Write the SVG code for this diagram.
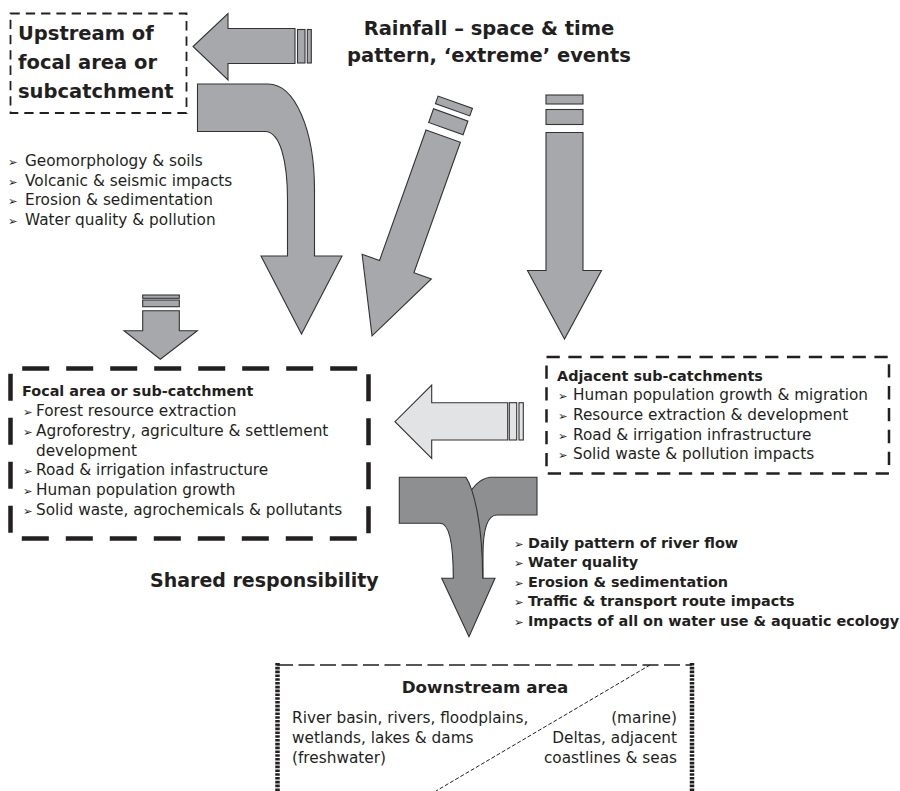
<svg xmlns="http://www.w3.org/2000/svg" width="900" height="791" viewBox="0 0 900 791">
<style>
text{font-family:"DejaVu Sans","Liberation Sans",sans-serif;fill:#231f20}
.t{font-size:15.3px}
.bb{font-size:14.4px;font-weight:bold}
.big{font-size:19.5px;font-weight:bold}
.bul{font-size:11.5px;font-weight:normal}
.arr{fill:#a7a8ab;stroke:#333;stroke-width:1.1}
.light{fill:#e2e3e5}
.dark{fill:#8e8f91}
.box{fill:none;stroke:#231f20}
</style>
<rect width="900" height="791" fill="#fff"/>

<g id="connectors">
  <g id="arrow-to-upstream">
    <polygon class="arr" points="295,28.5 228,28.5 228,13.5 193,46.5 228,80 228,63.5 295,63.5"/>
    <rect class="arr" x="297.5" y="29.5" width="7.5" height="33.5"/>
    <rect class="arr" x="307.3" y="29.5" width="4" height="33.5"/>
  </g>
  <path id="arrow-upstream-to-focal" class="arr" d="M197.5,84 L268,84 C295,84 314.5,130 314.5,190 L314.5,256 L342,256 L301.5,334 L261,256 L287.5,256 L287.5,200 C287.5,160 280,133 266,131.5 L197.5,131.5 Z"/>
  <g id="arrow-rain-diagonal" transform="translate(426,130) rotate(19.6)">
    <rect class="arr" x="0" y="-36" width="36.5" height="8"/>
    <rect class="arr" x="0" y="-22.5" width="36.5" height="14.5"/>
    <polygon class="arr" points="0,0 36.5,0 36.5,138.5 55,138.5 18.2,212 -18.5,138.5 0,138.5"/>
  </g>
  <g id="arrow-rain-vertical">
    <rect class="arr" x="546" y="95" width="37" height="9"/>
    <rect class="arr" x="546" y="109.5" width="37" height="15"/>
    <polygon class="arr" points="546,132.5 583,132.5 583,270.5 601.5,270.5 564.5,339 527.5,270.5 546,270.5"/>
  </g>
  <g id="arrow-into-focal">
    <rect class="arr" x="142.7" y="295" width="36.6" height="3.3"/>
    <rect class="arr" x="142.7" y="300" width="36.6" height="6.7"/>
    <polygon class="arr" points="142.7,310.7 179.3,310.7 179.3,330.7 197.3,330.7 160.3,359.3 124,330.7 142.7,330.7"/>
  </g>
  <g id="arrow-adjacent-to-focal">
    <polygon class="arr light" points="507.7,402.7 431.7,402.7 431.7,385 395,421.7 431.7,458.3 431.7,440 507.7,440"/>
    <rect class="arr light" x="509.3" y="402.7" width="7.4" height="37.3"/>
    <rect class="arr light" x="519" y="402.7" width="4.3" height="37.3"/>
  </g>
  <g id="arrow-to-downstream">
    <path class="arr dark" d="M537,477.3 L490,477.3 C470,480 455,510 453.5,578 L483,578 L483,555 C483,530 487,515 497,515 L537,515 Z"/>
    <path class="arr dark" d="M399.3,477.3 L466,477.3 C474,490 482.7,525 482.7,578.3 L495,578.3 L469,636.7 L441.7,578.3 L453.3,578.3 C453.3,545 450,523.3 440,523.3 L399.3,523.3 Z"/>
  </g>
</g>

<g id="rainfall">
  <text class="big" x="489" y="35" text-anchor="middle">Rainfall – space &amp; time</text>
  <text class="big" x="489" y="62" text-anchor="middle">pattern, ‘extreme’ events</text>
</g>

<g id="upstream">
  <rect class="box" x="10.5" y="13.5" width="176" height="99.5" stroke-width="1.8" stroke-dasharray="9.3 6"/>
  <text class="big" x="18" y="39.5">Upstream of</text>
  <text class="big" x="18" y="68.5">focal area or</text>
  <text class="big" x="18" y="97.5">subcatchment</text>
</g>

<g id="upstream-factors">
  <text class="t" y="166"><tspan class="bul" x="8">➢</tspan><tspan x="25">Geomorphology &amp; soils</tspan></text>
  <text class="t" y="185.7"><tspan class="bul" x="8">➢</tspan><tspan x="25">Volcanic &amp; seismic impacts</tspan></text>
  <text class="t" y="205.4"><tspan class="bul" x="8">➢</tspan><tspan x="25">Erosion &amp; sedimentation</tspan></text>
  <text class="t" y="225.1"><tspan class="bul" x="8">➢</tspan><tspan x="25">Water quality &amp; pollution</tspan></text>
</g>

<g id="focal">
  <rect class="box" x="10.5" y="368.5" width="358" height="170" stroke-width="4.5" stroke-dasharray="27 17" stroke-dashoffset="32.3"/>
  <text class="bb" x="22" y="396">Focal area or sub-catchment</text>
  <text class="t" y="415.8"><tspan class="bul" x="23">➢</tspan><tspan x="36">Forest resource extraction</tspan></text>
  <text class="t" y="435.7"><tspan class="bul" x="23">➢</tspan><tspan x="36">Agroforestry, agriculture &amp; settlement</tspan></text>
  <text class="t" x="36" y="455.5">development</text>
  <text class="t" y="475.4"><tspan class="bul" x="23">➢</tspan><tspan x="36">Road &amp; irrigation infastructure</tspan></text>
  <text class="t" y="495.2"><tspan class="bul" x="23">➢</tspan><tspan x="36">Human population growth</tspan></text>
  <text class="t" y="515"><tspan class="bul" x="23">➢</tspan><tspan x="36">Solid waste, agrochemicals &amp; pollutants</tspan></text>
</g>

<g id="adjacent">
  <rect class="box" x="546.5" y="357" width="342.5" height="116.5" stroke-width="2.5" stroke-dasharray="13.3 8.56"/>
  <text class="bb" x="557" y="381">Adjacent sub-catchments</text>
  <text class="t" y="400"><tspan class="bul" x="558">➢</tspan><tspan x="573">Human population growth &amp; migration</tspan></text>
  <text class="t" y="419.8"><tspan class="bul" x="558">➢</tspan><tspan x="573">Resource extraction &amp; development</tspan></text>
  <text class="t" y="439.5"><tspan class="bul" x="558">➢</tspan><tspan x="573">Road &amp; irrigation infrastructure</tspan></text>
  <text class="t" y="459.3"><tspan class="bul" x="558">➢</tspan><tspan x="573">Solid waste &amp; pollution impacts</tspan></text>
</g>

<g id="shared">
  <text x="150" y="587" style="font-size:19px;font-weight:bold">Shared responsibility</text>
</g>

<g id="downstream-effects">
  <text class="bb" y="547.5"><tspan class="bul" x="514">➢</tspan><tspan x="528">Daily pattern of river flow</tspan></text>
  <text class="bb" y="567"><tspan class="bul" x="514">➢</tspan><tspan x="528">Water quality</tspan></text>
  <text class="bb" y="586.5"><tspan class="bul" x="514">➢</tspan><tspan x="528">Erosion &amp; sedimentation</tspan></text>
  <text class="bb" y="606"><tspan class="bul" x="514">➢</tspan><tspan x="528">Traffic &amp; transport route impacts</tspan></text>
  <text class="bb" y="625.5"><tspan class="bul" x="514">➢</tspan><tspan x="528">Impacts of all on water use &amp; aquatic ecology</tspan></text>
</g>

<g id="downstream">
  <line class="box" x1="277" y1="665" x2="692" y2="665" stroke-width="1.5" stroke-dasharray="16 5.5"/>
  <line class="box" x1="277.5" y1="663" x2="277.5" y2="791" stroke-width="4.5" stroke-dasharray="2.6 1.2"/>
  <line class="box" x1="692" y1="663" x2="692" y2="791" stroke-width="4.5" stroke-dasharray="2.6 1.2"/>
  <line class="box" x1="650" y1="665" x2="436" y2="791" stroke-width="1" stroke-dasharray="4 2"/>
  <text x="485" y="693" text-anchor="middle" style="font-size:16.7px;font-weight:bold">Downstream area</text>
  <text class="t" x="292" y="723">River basin, rivers, floodplains,</text>
  <text class="t" x="292" y="743">wetlands, lakes &amp; dams</text>
  <text class="t" x="292" y="763">(freshwater)</text>
  <text class="t" x="677" y="723" text-anchor="end">(marine)</text>
  <text class="t" x="677" y="743" text-anchor="end">Deltas, adjacent</text>
  <text class="t" x="677" y="763" text-anchor="end">coastlines &amp; seas</text>
</g>
</svg>
